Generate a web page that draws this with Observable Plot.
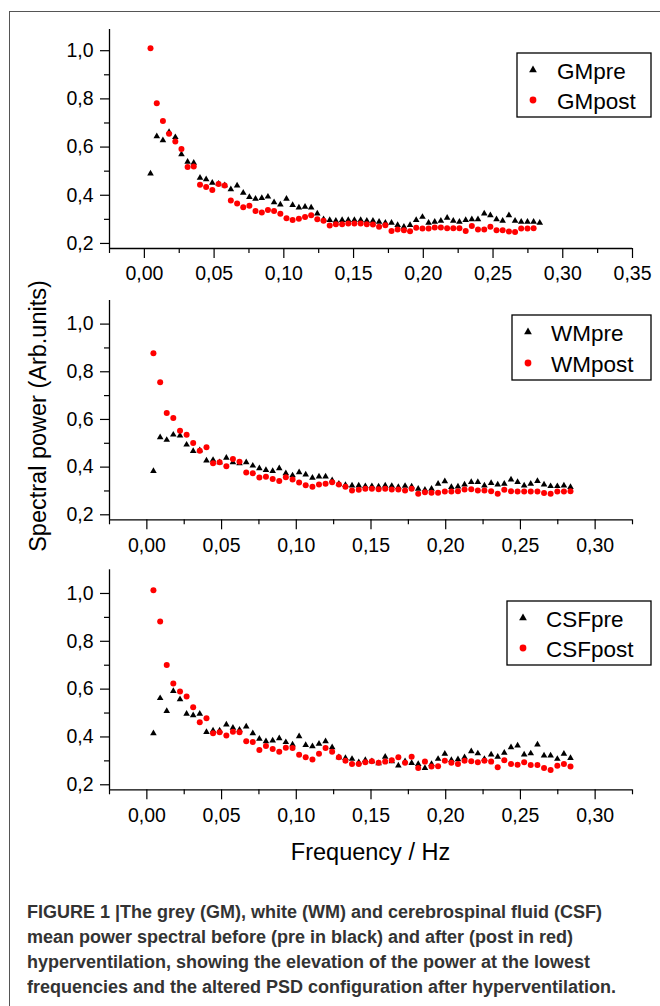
<!DOCTYPE html>
<html><head><meta charset="utf-8">
<script src="https://cdn.jsdelivr.net/npm/d3@7"></script>
<script src="https://cdn.jsdelivr.net/npm/@observablehq/plot@0.6"></script>
<style>
html,body{margin:0;padding:0;background:#fff;width:660px;height:1006px;overflow:hidden;}
#fig{position:relative;width:660px;height:1006px;font-family:"Liberation Sans",Arial,Helvetica,sans-serif;overflow:hidden;}
#border{position:absolute;left:9px;top:11px;width:800px;height:1200px;border-left:1px solid #555;border-top:1px solid #555;}
.panel{position:absolute;left:0;}
#overlay{position:absolute;left:0;top:0;pointer-events:none;}
#caption{position:absolute;left:27px;top:900px;font-family:"Liberation Sans",Arial,sans-serif;font-weight:bold;font-size:17.5px;line-height:25px;color:#333;white-space:nowrap;transform-origin:0 0;}
#caption div{display:block;}
</style>
</head><body>
<div id="fig"><div id="border"></div></div>
<script>
// ---- data ----
const freq = [0.0044,0.0089,0.0133,0.0177,0.0222,0.0266,0.0310,0.0354,0.0399,0.0443,
0.0487,0.0532,0.0576,0.0620,0.0665,0.0709,0.0753,0.0797,0.0842,0.0886,
0.0930,0.0975,0.1019,0.1063,0.1108,0.1152,0.1196,0.1240,0.1285,0.1329,
0.1373,0.1418,0.1462,0.1506,0.1551,0.1595,0.1639,0.1683,0.1728,0.1772,
0.1816,0.1861,0.1905,0.1949,0.1994,0.2038,0.2082,0.2126,0.2171,0.2215,
0.2259,0.2304,0.2348,0.2392,0.2437,0.2481,0.2525,0.2569,0.2614,0.2658,
0.2702,0.2747,0.2791,0.2835];

const GMpre = [0.490,0.645,0.628,0.662,0.641,0.570,0.539,0.535,0.472,0.466,0.452,0.448,0.441,0.425,0.440,0.410,0.392,0.385,0.388,0.394,0.371,0.361,0.385,0.359,0.349,0.352,0.349,0.324,0.300,0.297,
0.294,0.297,0.297,0.297,0.297,0.294,0.294,0.290,0.286,0.286,0.276,0.269,0.276,0.297,0.310,0.286,0.290,0.294,0.306,0.294,0.290,0.297,0.300,0.300,0.324,0.317,0.300,0.294,0.317,0.294,0.290,0.290,0.290,0.286];
const GMpost = [1.010,0.782,0.708,0.655,0.623,0.592,0.517,0.519,0.444,0.434,0.422,0.447,0.440,0.378,0.366,0.350,0.356,0.335,0.328,0.339,0.335,0.323,0.305,0.297,0.303,0.310,0.317,0.300,0.294,0.274,
0.280,0.280,0.283,0.283,0.283,0.280,0.279,0.269,0.276,0.252,0.258,0.255,0.251,0.265,0.262,0.262,0.266,0.266,0.263,0.263,0.263,0.252,0.272,0.258,0.258,0.269,0.255,0.255,0.250,0.247,0.262,0.262,0.263];
const WMpre = [0.383,0.525,0.514,0.536,0.532,0.494,0.467,0.470,0.427,0.430,0.420,0.439,0.420,0.416,0.420,0.406,0.395,0.388,0.383,0.395,0.374,0.365,0.378,0.369,0.355,0.360,0.360,0.345,
0.330,0.325,0.323,0.323,0.320,0.320,0.318,0.323,0.321,0.316,0.321,0.318,0.309,0.305,0.309,0.330,0.340,0.316,0.318,0.327,0.337,0.337,0.323,0.333,0.327,0.330,0.348,0.337,0.323,0.330,0.341,0.327,0.320,0.320,0.323,0.316];
const WMpost = [0.878,0.756,0.627,0.606,0.553,0.536,0.501,0.469,0.483,0.416,0.420,0.404,0.434,0.423,0.377,0.374,0.356,0.360,0.350,0.342,0.358,0.348,0.335,0.324,0.318,0.327,0.330,0.337,
0.327,0.318,0.302,0.305,0.309,0.309,0.307,0.309,0.306,0.306,0.302,0.309,0.288,0.295,0.293,0.293,0.298,0.298,0.299,0.306,0.307,0.302,0.302,0.299,0.288,0.305,0.299,0.298,0.298,0.298,0.298,0.291,0.288,0.298,0.298,0.299];
const CSFpre = [0.415,0.562,0.508,0.592,0.557,0.497,0.490,0.497,0.420,0.427,0.427,0.452,0.438,0.430,0.443,0.415,0.392,0.382,0.385,0.394,0.378,0.368,0.403,0.366,0.361,0.371,0.382,0.357,
0.315,0.312,0.308,0.294,0.303,0.298,0.290,0.317,0.298,0.280,0.298,0.291,0.287,0.270,0.287,0.308,0.329,0.303,0.306,0.315,0.340,0.331,0.308,0.326,0.317,0.334,0.357,0.364,0.326,0.331,0.368,0.322,0.322,0.308,0.329,0.312];
const CSFpost = [1.014,0.883,0.701,0.624,0.590,0.569,0.524,0.462,0.478,0.415,0.420,0.406,0.422,0.420,0.382,0.379,0.345,0.362,0.350,0.338,0.355,0.354,0.326,0.315,0.306,0.330,0.354,0.338,
0.315,0.301,0.287,0.287,0.294,0.298,0.292,0.297,0.303,0.315,0.292,0.317,0.270,0.297,0.276,0.278,0.301,0.292,0.287,0.301,0.298,0.294,0.301,0.297,0.273,0.303,0.287,0.284,0.294,0.283,0.283,0.270,0.262,0.280,0.287,0.276];

const preNames = ["GMpre", "WMpre", "CSFpre"];
const postNames = ["GMpost", "WMpost", "CSFpost"];
const xTicksTop = [0, 0.05, 0.10, 0.15, 0.20, 0.25, 0.30, 0.35];
const xTicks = [0, 0.05, 0.10, 0.15, 0.20, 0.25, 0.30];
const xMinorTop = [-0.025, 0.025, 0.075, 0.125, 0.175, 0.225, 0.275, 0.325];
const xMinor = [-0.025, 0.025, 0.075, 0.125, 0.175, 0.225, 0.275, 0.325];
const yTicks = [0.2, 0.4, 0.6, 0.8, 1.0];
const yMinor = [0.3, 0.5, 0.7, 0.9];
const xLabel = "Frequency / Hz";
const yLabel = "Spectral power (Arb.units)";
const captionLines = [
  "FIGURE 1 |The grey (GM), white (WM) and cerebrospinal fluid (CSF)",
  "mean power spectral before (pre in black) and after (post in red)",
  "hyperventilation, showing the elevation of the power at the lowest",
  "frequencies and the altered PSD configuration after hyperventilation."
];

// ---- drawing ----
const FONT = "Liberation Sans, Arial, Helvetica, sans-serif";
const fmt2 = d => d.toFixed(2).replace(".", ",");
const fmt1 = d => d.toFixed(1).replace(".", ",");

function panel(cfg) {
  const preData = cfg.pre.map((v, i) => ({f: freq[i], v}));
  const postData = cfg.post.map((v, i) => ({f: freq[i], v}));
  return Plot.plot({
    width: 660, height: cfg.height,
    marginLeft: 109, marginRight: 28, marginTop: cfg.marginTop, marginBottom: cfg.marginBottom,
    style: {background: "transparent", fontFamily: FONT, fontSize: "19.5px", color: "#000", overflow: "visible"},
    x: {domain: cfg.xDomain},
    y: {domain: cfg.yDomain},
    marks: [
      Plot.axisX({ticks: cfg.xMajor, tickSize: 10, tickPadding: 8, tickFormat: fmt2, label: null, fontSize: 19.5, strokeWidth: 1.2}),
      Plot.axisX({ticks: cfg.xMinor, tickSize: 5, tickFormat: () => "", label: null, strokeWidth: 1.2}),
      Plot.axisY({ticks: yTicks, tickSize: 9, tickPadding: 7, tickFormat: fmt1, label: null, fontSize: 19.5, strokeWidth: 1.2}),
      Plot.axisY({ticks: yMinor, tickSize: 5, tickFormat: () => "", label: null, strokeWidth: 1.2}),
      Plot.ruleX([cfg.xDomain[0]], {strokeWidth: 1.3}),
      Plot.ruleY([cfg.yDomain[0]], {strokeWidth: 1.3}),
      Plot.dot(preData, {x: "f", y: "v", symbol: "triangle", r: 2.45, fill: "#000", stroke: "none"}),
      Plot.dot(postData, {x: "f", y: "v", r: 3, fill: "#ff0000", stroke: "none"})
    ]
  });
}

const fig = document.getElementById("fig");
const panels = [
  {pre: GMpre, post: GMpost, xDomain: [-0.025, 0.35], xMajor: xTicksTop, xMinor: xMinorTop, yDomain: [0.179, 1.088], top: 0, height: 290, marginTop: 29, marginBottom: 42},
  {pre: WMpre, post: WMpost, xDomain: [-0.025, 0.325], xMajor: xTicks, xMinor: xMinor, yDomain: [0.179, 1.099], top: 290, height: 270, marginTop: 10, marginBottom: 40.7},
  {pre: CSFpre, post: CSFpost, xDomain: [-0.025, 0.325], xMajor: xTicks, xMinor: xMinor, yDomain: [0.179, 1.099], top: 560, height: 270, marginTop: 9.3, marginBottom: 40.7}
];
panels.forEach(cfg => {
  const p = panel(cfg);
  p.classList.add("panel");
  p.style.top = cfg.top + "px";
  fig.appendChild(p);
});

// overlay: axis titles and legends
const svg = d3.select(fig).append("svg").attr("id", "overlay").attr("width", 660).attr("height", 1006)
  .style("font-family", FONT);
svg.append("text").attr("x", 370.5).attr("y", 860).attr("text-anchor", "middle")
  .attr("font-size", 23.5).attr("fill", "#000").text(xLabel);
svg.append("text").attr("transform", "translate(46,416) rotate(-90)").attr("text-anchor", "middle")
  .attr("font-size", 23.5).attr("fill", "#000").text(yLabel);

const legends = [
  {x: 517, y: 53, w: 134, h: 64, sx: 16, tx: 40, r1: 17, r2: 47},
  {x: 512, y: 315, w: 139, h: 65, sx: 16, tx: 39, r1: 17, r2: 48},
  {x: 507, y: 601, w: 144, h: 64, sx: 16, tx: 39, r1: 17, r2: 47}
];
legends.forEach((L, k) => {
  const g = svg.append("g").attr("transform", `translate(${L.x},${L.y})`);
  g.append("rect").attr("width", L.w).attr("height", L.h).attr("fill", "#fff").attr("stroke", "#000").attr("stroke-width", 1.3);
  g.append("path").attr("transform", `translate(${L.sx},${L.r1})`).attr("d", d3.symbol(d3.symbolTriangle, 26)()).attr("fill", "#000");
  g.append("circle").attr("cx", L.sx).attr("cy", L.r2).attr("r", 3.4).attr("fill", "#ff0000");
  g.append("text").attr("x", L.tx).attr("y", L.r1 + 8.5).attr("font-size", 22.5).text(preNames[k]);
  g.append("text").attr("x", L.tx).attr("y", L.r2 + 8.5).attr("font-size", 22.5).text(postNames[k]);
});

const cap = document.createElement("div");
cap.id = "caption";
captionLines.forEach(s => {
  const d = document.createElement("div");
  const sp = document.createElement("span");
  sp.textContent = s;
  d.appendChild(sp);
  cap.appendChild(d);
});
fig.appendChild(cap);
// condense the caption horizontally so that the first line spans the same width as in the figure
const w1 = cap.querySelector("span").getBoundingClientRect().width;
cap.style.transform = `scaleX(${575 / w1})`;
</script>
</body></html>
